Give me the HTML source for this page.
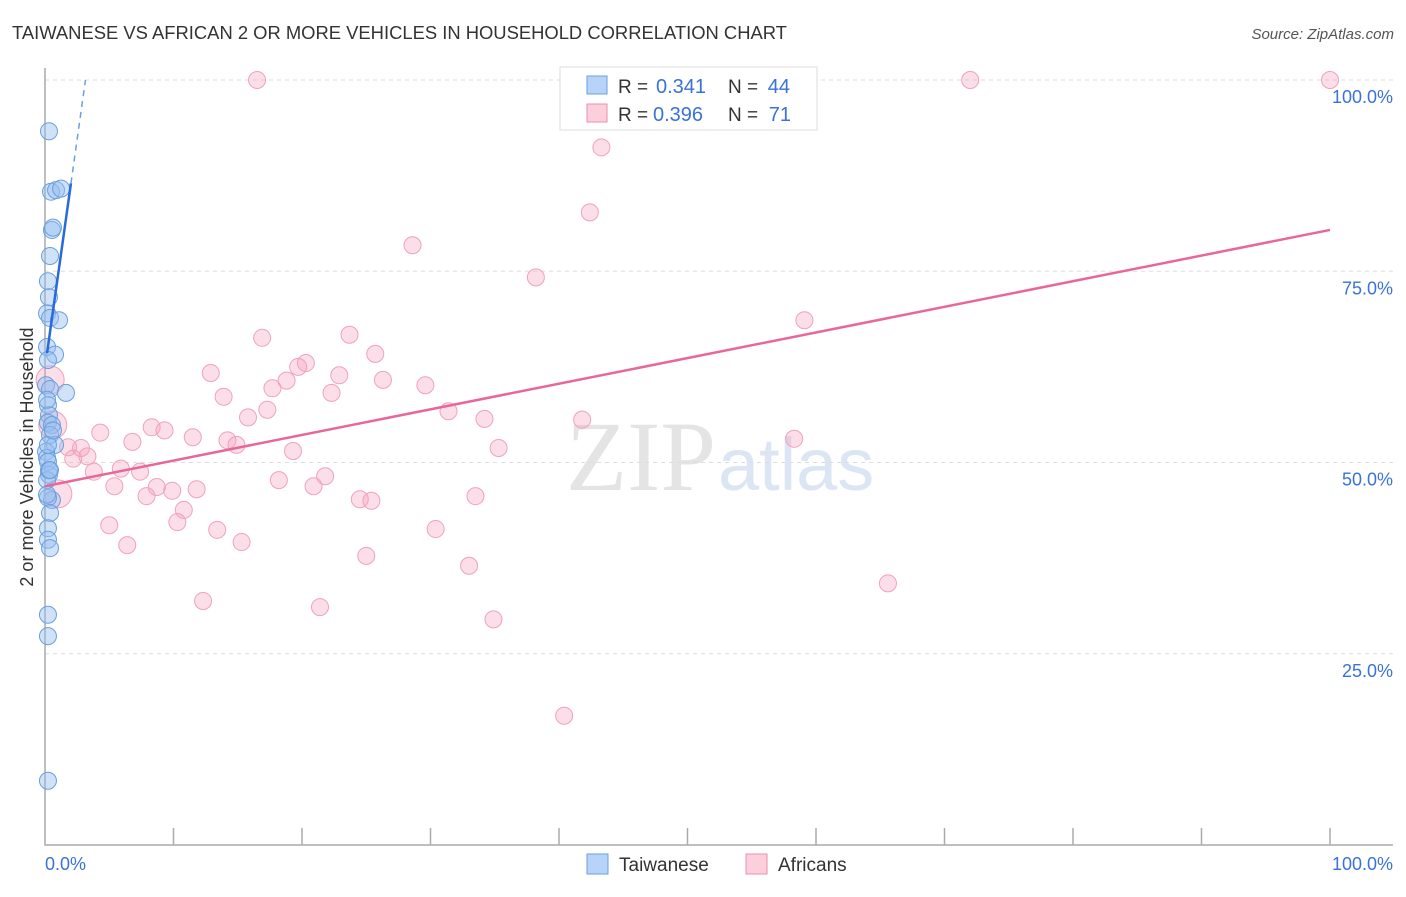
<!DOCTYPE html>
<html><head><meta charset="utf-8"><style>
body{margin:0;background:#fff;font-family:"Liberation Sans",sans-serif;}
</style></head><body>
<svg id="chart" width="1406" height="892" xmlns="http://www.w3.org/2000/svg" style="font-family:'Liberation Sans',sans-serif">
<text x="12" y="39" font-size="18.4" fill="#333">TAIWANESE VS AFRICAN 2 OR MORE VEHICLES IN HOUSEHOLD CORRELATION CHART</text>
<text x="1394" y="39" font-size="15" fill="#555" text-anchor="end" font-style="italic">Source: ZipAtlas.com</text>
<text transform="translate(33,457) rotate(-90)" font-size="18" fill="#333" text-anchor="middle">2 or more Vehicles in Household</text>
<text x="716" y="490" font-size="100" fill="#e4e4e4" text-anchor="end" font-family="Liberation Serif">ZIP</text>
<text x="718" y="490" font-size="74" fill="#dbe5f3">atlas</text>
<g id="grid"></g><g id="marks"></g>
<g>
<rect x="560" y="67" width="257" height="63" fill="#fff" stroke="#ddd"/>
<rect x="587" y="76" width="20" height="18" fill="#b7d3f7" stroke="#6a9fe0"/>
<rect x="587" y="104" width="20" height="18" fill="#fbcfdc" stroke="#eb8fab"/>
<text x="618" y="93" font-size="19" fill="#333">R =</text>
<text x="656" y="93" font-size="20" fill="#3a72d8">0.341</text>
<text x="728" y="93" font-size="19" fill="#333">N =</text>
<text x="790" y="93" font-size="20" fill="#3a72d8" text-anchor="end">44</text>
<text x="618" y="121" font-size="19" fill="#333">R =</text>
<text x="653" y="121" font-size="20" fill="#3a72d8">0.396</text>
<text x="728" y="121" font-size="19" fill="#333">N =</text>
<text x="791" y="121" font-size="20" fill="#3a72d8" text-anchor="end">71</text>
</g>
<g>
<rect x="587" y="854" width="21" height="20" fill="#b7d3f7" stroke="#6a9fe0"/>
<text x="619" y="871" font-size="19" fill="#333">Taiwanese</text>
<rect x="746" y="854" width="21" height="20" fill="#fbcfdc" stroke="#eb8fab"/>
<text x="778" y="871" font-size="19" fill="#333">Africans</text>
</g>
</svg>
<script>
const yTicks=[25,50,75,100];
const yTickLabels=["25.0%","50.0%","75.0%","100.0%"];
const blueX=[0.31,0.47,0.86,1.25,0.54,0.62,0.39,0.23,0.31,0.16,0.39,1.09,0.16,0.78,0.23,0.08,0.39,1.63,0.23,0.31,0.23,0.54,0.39,0.78,0.08,0.16,0.23,0.31,0.16,0.54,0.23,0.39,0.23,0.23,0.39,0.23,0.23,0.23,0.16,0.23,0.62,0.31,0.16,0.39];
const blueY=[93.3,85.4,85.6,85.8,80.4,80.7,77.0,73.7,71.6,69.5,68.9,68.6,65.1,64.1,63.4,60.1,59.6,59.1,57.5,56.2,55.2,54.9,53.6,52.3,51.4,50.6,50.1,48.4,47.7,45.1,45.4,43.4,41.4,39.9,38.8,30.1,27.3,8.4,58.2,52.3,54.2,49.0,45.8,49.0];
const pinkX=[16.5,72.0,100,43.3,42.4,28.6,38.2,59.1,16.9,23.7,25.7,20.3,19.7,12.9,22.9,18.8,26.3,17.7,29.6,22.3,13.9,17.3,31.4,15.8,34.2,41.8,8.3,9.3,4.3,14.2,11.5,6.8,14.9,58.3,2.8,1.8,19.3,35.3,3.3,2.2,5.9,3.8,7.4,21.8,18.2,5.4,8.7,11.8,9.9,20.9,7.9,24.5,25.4,33.5,10.8,10.3,5.0,13.4,30.4,15.3,6.4,25.0,33.0,65.6,12.3,21.4,34.9,40.4,0.6,1.0,0.4];
const pinkY=[100,100,100,91.2,82.7,78.4,74.2,68.6,66.3,66.7,64.2,63.0,62.5,61.7,61.4,60.7,60.8,59.7,60.1,59.1,58.6,56.9,56.7,55.9,55.7,55.6,54.6,54.2,53.9,52.9,53.3,52.7,52.3,53.1,51.9,52.0,51.5,51.9,50.8,50.5,49.2,48.8,48.8,48.2,47.7,46.9,46.8,46.5,46.3,46.9,45.6,45.2,45.0,45.6,43.8,42.2,41.8,41.2,41.3,39.6,39.2,37.8,36.5,34.2,31.9,31.1,29.5,16.9,54.9,45.9,60.8];
const pinkBig=[0,0,0,0,0,0,0,0,0,0,0,0,0,0,0,0,0,0,0,0,0,0,0,0,0,0,0,0,0,0,0,0,0,0,0,0,0,0,0,0,0,0,0,0,0,0,0,0,0,0,0,0,0,0,0,0,0,0,0,0,0,0,0,0,0,0,0,0,1,1,1];
const blueTrend=[0.16,64.3,2.02,86.5,3.15,100];
const pinkTrend=[0,46.9,100,80.4];
const NS="http://www.w3.org/2000/svg";
const X=v=>45+v*12.85, Y=v=>845-v*7.65;
const grid=document.getElementById('grid'), marks=document.getElementById('marks');
function mk(tag,attrs,parent){const e=document.createElementNS(NS,tag);for(const k in attrs)e.setAttribute(k,attrs[k]);parent.appendChild(e);return e;}
yTicks.forEach((t,i)=>{
 const l=mk('line',{x1:45,x2:1393,y1:Y(t),y2:Y(t),stroke:'#ddd','stroke-dasharray':'4,4'},grid);
 
 
 const tx=mk('text',{x:1393,y:Y(t)+23,'font-size':18,fill:'#3a72d8','text-anchor':'end'},grid);
 tx.textContent=yTickLabels[i];
 
 
});
const ax=mk('path',{d:'M45 68V845H1393',stroke:'#aaa',fill:'none','stroke-width':1.5},grid);


for(let i=1;i<=10;i++){const t=mk('line',{x1:X(i*10),x2:X(i*10),y1:828,y2:845,stroke:'#aaa','stroke-width':1.5},grid);
 
 }
const x0=mk('text',{x:45,y:870,'font-size':18,fill:'#3a72d8'},grid);x0.textContent='0.0%';


const x1=mk('text',{x:1393,y:870,'font-size':18,fill:'#3a72d8','text-anchor':'end'},grid);x1.textContent='100.0%';


pinkX.forEach((v,i)=>{const c=mk('circle',{cx:X(v),cy:Y(pinkY[i]),r:pinkBig[i]?14:8.5,fill:'rgba(245,160,188,0.35)',stroke:'#eea3bb','stroke-width':1},marks);
 
 });
blueX.forEach((v,i)=>{const c=mk('circle',{cx:X(v),cy:Y(blueY[i]),r:8.5,fill:'rgba(150,190,240,0.45)',stroke:'#6a9fe0','stroke-width':1},marks);
 
 });
const pl=mk('line',{x1:X(pinkTrend[0]),y1:Y(pinkTrend[1]),x2:X(pinkTrend[2]),y2:Y(pinkTrend[3]),stroke:'#e8679a','stroke-width':2.5},marks);


const bl=mk('line',{x1:X(blueTrend[0]),y1:Y(blueTrend[1]),x2:X(blueTrend[2]),y2:Y(blueTrend[3]),stroke:'#2a6ad8','stroke-width':2.5},marks);


const bd=mk('line',{x1:X(blueTrend[2]),y1:Y(blueTrend[3]),x2:X(blueTrend[4]),y2:Y(blueTrend[5]),stroke:'#6a9fe0','stroke-width':1.5,'stroke-dasharray':'6,5'},marks);


</script>
</body></html>
